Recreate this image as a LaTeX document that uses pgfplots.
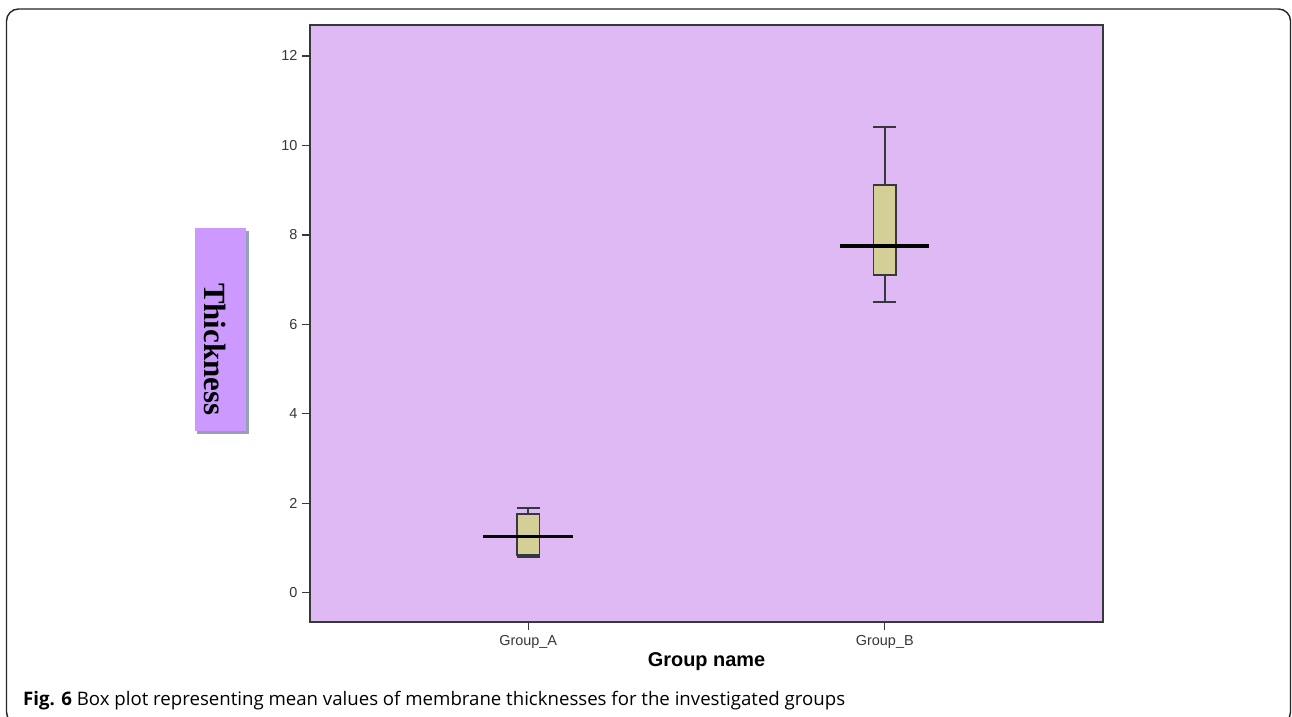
\documentclass[border=0pt]{standalone}
\usepackage{pgfplots}
\pgfplotsset{compat=1.18}
\usepgfplotslibrary{statistics}
\usepackage{fontspec}
\setmainfont{Liberation Sans}
\newfontfamily\capfont{Open Sans}
\newfontfamily\labfont{Liberation Serif}
\definecolor{plotbg}{RGB}{223,185,243}
\definecolor{boxfill}{RGB}{212,207,150}
\definecolor{labbox}{RGB}{204,153,255}
\definecolor{axcol}{RGB}{55,55,62}
\definecolor{shadowc}{RGB}{150,160,185}
\begin{document}
\begin{tikzpicture}
\useasboundingbox (0,0) rectangle (1292bp,-717bp);
\clip (0,0) rectangle (1292bp,-717bp);
\fill[white] (0,0) rectangle (1292bp,-717bp);
\draw[line width=1.4bp, color=black!85, rounded corners=12bp] (6.5bp,-9bp) rectangle (1290.5bp,-724bp);
\begin{axis}[
  at={(310bp,-622bp)}, anchor=south west,
  scale only axis, width=793bp, height=597bp,
  xmin=0.388, xmax=2.612, ymin=-0.655, ymax=12.69,
  axis background/.style={fill=plotbg},
  axis line style={draw=axcol, line width=1.3bp},
  xtick={1,2}, xticklabels={Group\_A, Group\_B},
  ytick={0,2,4,6,8,10,12},
  xtick pos=bottom, ytick pos=left,
  tick align=outside, major tick length=8bp,
  every tick/.style={draw=axcol, line width=1.4bp},
  tick label style={font=\fontsize{14.5}{15}\selectfont, text=axcol},
  /pgf/number format/assume math mode=true,
  yticklabel style={xshift=-1bp},
  xticklabel style={yshift=-2bp},
  clip=false,
  boxplot/draw direction=y,
  boxplot/every box/.style={draw=axcol, line width=1.6bp, fill=boxfill},
  boxplot/every whisker/.style={draw=axcol, line width=1.6bp},
  boxplot/every median/.style={draw=axcol, line width=1.6bp},
]
\addplot[boxplot prepared={draw position=1, lower whisker=0.80, lower quartile=0.84, median=1.25, upper quartile=1.76, upper whisker=1.90, box extend=0.064, whisker extend=0.064}, draw=axcol, line width=1.6bp, fill=boxfill] coordinates {};
\addplot[boxplot prepared={draw position=2, lower whisker=6.50, lower quartile=7.10, median=7.75, upper quartile=9.11, upper whisker=10.41, box extend=0.064, whisker extend=0.064}, draw=axcol, line width=1.6bp, fill=boxfill] coordinates {};
\addplot[black, line width=3.2bp] coordinates {(0.874,1.25) (1.126,1.25)};
\addplot[black, line width=3.2bp] coordinates {(1.875,7.75) (2.125,7.75)};
\end{axis}
% y label box
\fill[shadowc] (197bp,-231bp) rectangle (249bp,-434bp);
\fill[labbox] (195bp,-228bp) rectangle (246bp,-431bp);
\node[rotate=-90, anchor=base west, inner sep=0pt] at (204bp,-283bp) {\labfont\bfseries\fontsize{31}{32}\selectfont Thickness};
\node[anchor=center, inner sep=0pt] at (706.5bp,-662bp) {\bfseries\fontsize{20}{21}\selectfont Group name};
\node[anchor=base west, inner sep=0pt] at (23bp,-705bp) {\capfont\fontsize{18.7}{20}\selectfont\textbf{Fig. 6} Box plot representing mean values of membrane thicknesses for the investigated groups};
\end{tikzpicture}
\end{document}
